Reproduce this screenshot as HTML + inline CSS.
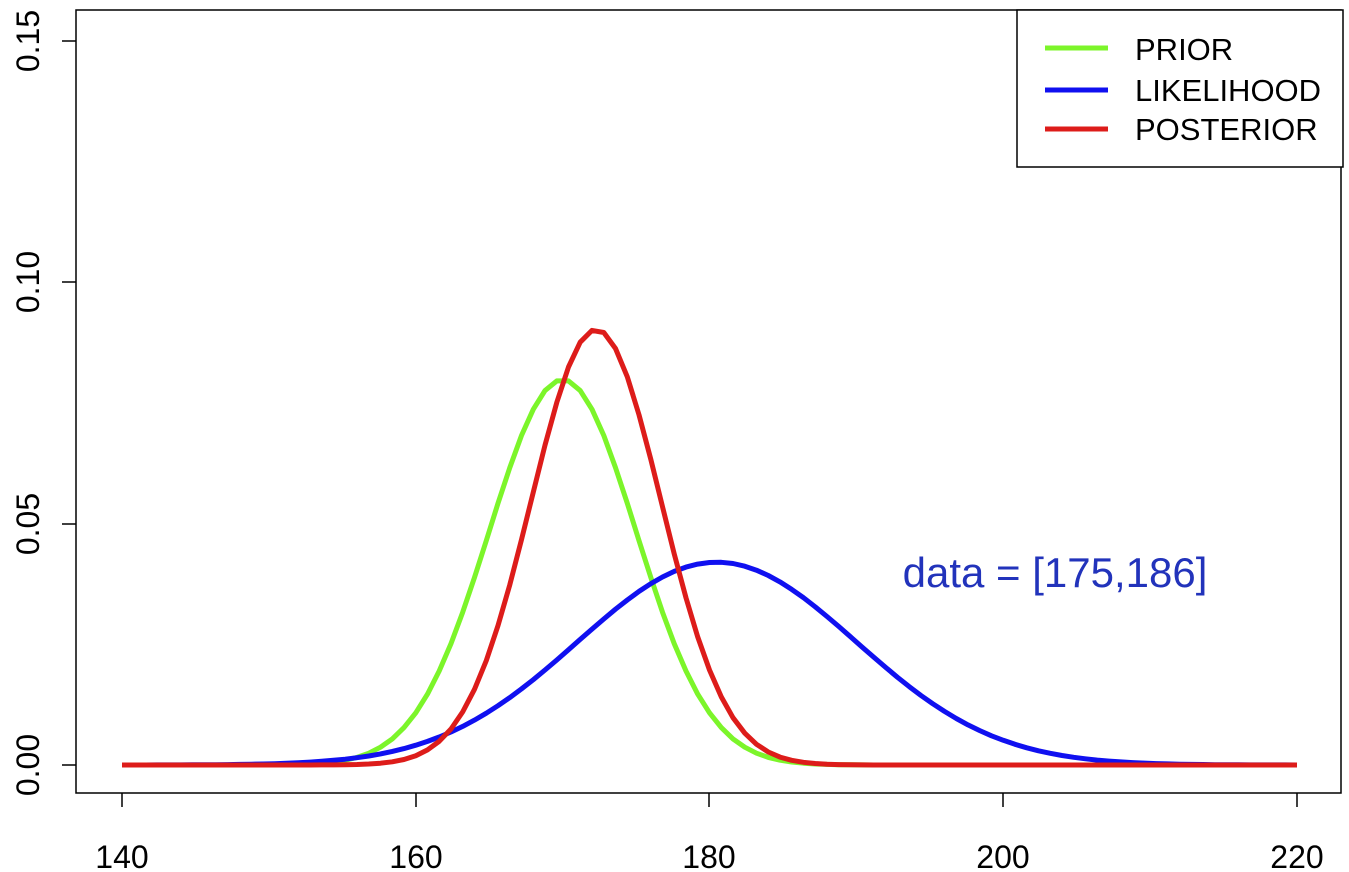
<!DOCTYPE html>
<html><head><meta charset="utf-8"><style>
html,body{margin:0;padding:0;background:#fff;}
svg{display:block;font-family:"Liberation Sans",Arial,sans-serif;}
</style></head><body>
<svg id="s" width="1349" height="872" viewBox="0 0 1349 872">
<rect x="76" y="10" width="1265" height="783" fill="none" stroke="#000" stroke-width="1.5"/>
<g stroke="#000" stroke-width="1.5">
<line x1="122" y1="793" x2="122" y2="807"/>
<line x1="416" y1="793" x2="416" y2="807"/>
<line x1="709" y1="793" x2="709" y2="807"/>
<line x1="1003" y1="793" x2="1003" y2="807"/>
<line x1="1297" y1="793" x2="1297" y2="807"/>
<line x1="76" y1="765" x2="62" y2="765"/>
<line x1="76" y1="524" x2="62" y2="524"/>
<line x1="76" y1="282" x2="62" y2="282"/>
<line x1="76" y1="41" x2="62" y2="41"/>
</g>
<g font-size="32" text-anchor="middle" fill="#000">
<text x="122" y="868">140</text>
<text x="416" y="868">160</text>
<text x="709" y="868">180</text>
<text x="1003" y="868">200</text>
<text x="1297" y="868">220</text>
<text transform="translate(39,765) rotate(-90)">0.00</text>
<text transform="translate(39,524) rotate(-90)">0.05</text>
<text transform="translate(39,282) rotate(-90)">0.10</text>
<text transform="translate(39,41) rotate(-90)">0.15</text>
</g>
<g id="curves" fill="none" stroke-width="5" stroke-linejoin="round"></g>
<text x="1055" y="587" font-size="42" text-anchor="middle" fill="#2233BB">data = [175,186]</text>
<rect x="1017" y="10" width="326" height="157" fill="#fff" stroke="#000" stroke-width="1.5"/>
<g stroke-width="5">
<line x1="1045" y1="48" x2="1108" y2="48" stroke="#7CF52A"/>
<line x1="1045" y1="90" x2="1108" y2="90" stroke="#1010F0"/>
<line x1="1045" y1="129" x2="1108" y2="129" stroke="#DD1C1A"/>
</g>
<g font-size="31" fill="#000">
<text x="1135" y="60">PRIOR</text>
<text x="1135" y="101">LIKELIHOOD</text>
<text x="1135" y="140">POSTERIOR</text>
</g>
</svg>
<script>
(function(){
function dn(x,m,s){return Math.exp(-0.5*((x-m)/s)*((x-m)/s))/(s*Math.sqrt(2*Math.PI));}
function X(v){return 122+(v-140)*14.6875;}
function Y(v){return 765-v*4830;}
var p1=1/25,p2=1/(9.5*9.5),pm=(170*p1+180.5*p2)/(p1+p2),ps=Math.sqrt(1/(p1+p2));
var series=[[170,5,"#7CF52A"],[180.5,9.5,"#1010F0"],[pm,ps,"#DD1C1A"]];
var g=document.getElementById("curves");
series.forEach(function(s){
 var d="";
 for(var i=0;i<=100;i++){var x=140+i*0.8;d+=(d?"L":"M")+X(x).toFixed(1)+","+Y(dn(x,s[0],s[1])).toFixed(1);}
 var p=document.createElementNS("http://www.w3.org/2000/svg","path");
 p.setAttribute("d",d);p.setAttribute("stroke",s[2]);g.appendChild(p);
});
})();
</script>
</body></html>
